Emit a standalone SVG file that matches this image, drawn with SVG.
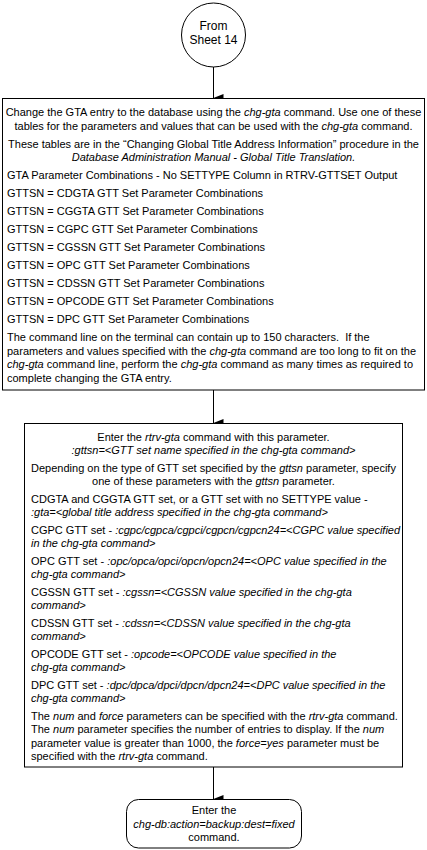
<svg xmlns="http://www.w3.org/2000/svg" width="427" height="850" viewBox="0 0 427 850">
<style>
.t{font-family:"Liberation Sans",Arial,sans-serif;font-size:11px;fill:#000}
.c{text-anchor:middle}
.i{font-style:italic}
.box{fill:#fff;stroke:#000;stroke-width:1}
.ln{stroke:#000;stroke-width:1;fill:none}
</style>
<defs>
<marker id="ah" markerWidth="8" markerHeight="10" refX="4" refY="10" orient="auto" markerUnits="userSpaceOnUse" viewBox="0 0 8 10">
<path d="M0,0 L8,0 L4,10 Z" fill="#000"/>
</marker>
</defs>
<rect width="427" height="850" fill="#fff"/>
<g id="connectors">
<line class="ln" x1="213.5" y1="67" x2="213.5" y2="98" marker-end="url(#ah)"/>
<line class="ln" x1="213.5" y1="390" x2="213.5" y2="423" marker-end="url(#ah)"/>
<line class="ln" x1="213.5" y1="767" x2="213.5" y2="799" marker-end="url(#ah)"/>
</g>
<g id="start">
<circle class="box" cx="213.5" cy="35" r="32"/>
<text class="t c" x="213.5" y="30" style="font-size:12px">From</text>
<text class="t c" x="213.5" y="44" style="font-size:12px">Sheet 14</text>
</g>
<g id="chg-gta">
<rect class="box" x="2.5" y="98.5" width="422" height="291.5"/>
<text class="t c" x="213.5" y="116">Change the GTA entry to the database using the <tspan class="i">chg-gta</tspan> command. Use one of these</text>
<text class="t c" x="213.5" y="129.5">tables for the parameters and values that can be used with the <tspan class="i">chg-gta</tspan> command.</text>
<text class="t c" x="213.5" y="147.5">These tables are in the “Changing Global Title Address Information” procedure in the</text>
<text class="t c i" x="213.5" y="161">Database Administration Manual - Global Title Translation.</text>
<text class="t" x="7" y="179">GTA Parameter Combinations - No SETTYPE Column in RTRV-GTTSET Output</text>
<text class="t" x="7" y="197">GTTSN = CDGTA GTT Set Parameter Combinations</text>
<text class="t" x="7" y="215">GTTSN = CGGTA GTT Set Parameter Combinations</text>
<text class="t" x="7" y="233">GTTSN = CGPC GTT Set Parameter Combinations</text>
<text class="t" x="7" y="251">GTTSN = CGSSN GTT Set Parameter Combinations</text>
<text class="t" x="7" y="269">GTTSN = OPC GTT Set Parameter Combinations</text>
<text class="t" x="7" y="287">GTTSN = CDSSN GTT Set Parameter Combinations</text>
<text class="t" x="7" y="305">GTTSN = OPCODE GTT Set Parameter Combinations</text>
<text class="t" x="7" y="323">GTTSN = DPC GTT Set Parameter Combinations</text>
<text class="t" x="7" y="341" xml:space="preserve">The command line on the terminal can contain up to 150 characters.  If the</text>
<text class="t" x="7" y="354.5">parameters and values specified with the <tspan class="i">chg-gta</tspan> command are too long to fit on the</text>
<text class="t" x="7" y="368"><tspan class="i">chg-gta</tspan> command line, perform the <tspan class="i">chg-gta</tspan> command as many times as required to</text>
<text class="t" x="7" y="381.5">complete changing the GTA entry.</text>
</g>
<g id="rtrv-gta">
<rect class="box" x="24.5" y="423.5" width="378" height="343.5"/>
<text class="t c" x="213.5" y="441">Enter the <tspan class="i">rtrv-gta</tspan> command with this parameter.</text>
<text class="t c i" x="213.5" y="454">:gttsn=&lt;GTT set name specified in the chg-gta command&gt;</text>
<text class="t c" x="213.5" y="471.5">Depending on the type of GTT set specified by the <tspan class="i">gttsn</tspan> parameter, specify</text>
<text class="t c" x="213.5" y="485">one of these parameters with the <tspan class="i">gttsn</tspan> parameter.</text>
<text class="t" x="31" y="502.5">CDGTA and CGGTA GTT set, or a GTT set with no SETTYPE value -</text>
<text class="t i" x="31" y="516">:gta=&lt;global title address specified in the chg-gta command&gt;</text>
<text class="t" x="31" y="533.5">CGPC GTT set - <tspan class="i">:cgpc/cgpca/cgpci/cgpcn/cgpcn24=&lt;CGPC value specified</tspan></text>
<text class="t i" x="31" y="547">in the chg-gta command&gt;</text>
<text class="t" x="31" y="564.5">OPC GTT set - <tspan class="i">:opc/opca/opci/opcn/opcn24=&lt;OPC value specified in the</tspan></text>
<text class="t i" x="31" y="578">chg-gta command&gt;</text>
<text class="t" x="31" y="595.5">CGSSN GTT set - <tspan class="i">:cgssn=&lt;CGSSN value specified in the chg-gta</tspan></text>
<text class="t i" x="31" y="609">command&gt;</text>
<text class="t" x="31" y="626.5">CDSSN GTT set - <tspan class="i">:cdssn=&lt;CDSSN value specified in the chg-gta</tspan></text>
<text class="t i" x="31" y="640">command&gt;</text>
<text class="t" x="31" y="657.5">OPCODE GTT set - <tspan class="i">:opcode=&lt;OPCODE value specified in the</tspan></text>
<text class="t i" x="31" y="671">chg-gta command&gt;</text>
<text class="t" x="31" y="688.5">DPC GTT set - <tspan class="i">:dpc/dpca/dpci/dpcn/dpcn24=&lt;DPC value specified in the</tspan></text>
<text class="t i" x="31" y="702">chg-gta command&gt;</text>
<text class="t" x="31" y="719.5">The <tspan class="i">num</tspan> and <tspan class="i">force</tspan> parameters can be specified with the <tspan class="i">rtrv-gta</tspan> command.</text>
<text class="t" x="31" y="733">The <tspan class="i">num</tspan> parameter specifies the number of entries to display. If the <tspan class="i">num</tspan></text>
<text class="t" x="31" y="746.5">parameter value is greater than 1000, the <tspan class="i">force=yes</tspan> parameter must be</text>
<text class="t" x="31" y="760">specified with the <tspan class="i">rtrv-gta</tspan> command.</text>
</g>
<g id="chg-db">
<rect class="box" x="126.5" y="799.5" width="175" height="48.5" rx="12" ry="12"/>
<text class="t c" x="214" y="814">Enter the</text>
<text class="t c i" x="214" y="827.5">chg-db:action=backup:dest=fixed</text>
<text class="t c" x="214" y="841">command.</text>
</g>
</svg>
